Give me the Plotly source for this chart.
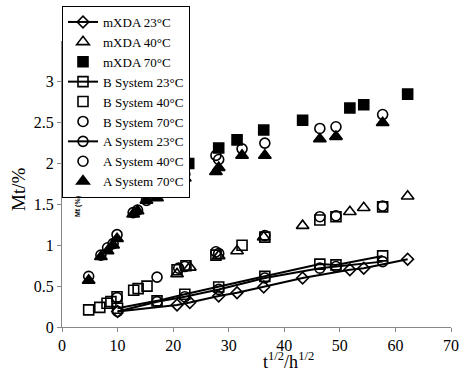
import plotly.graph_objects as go

# ---- data ----
mxda23_x = [10, 20.7, 23, 28.2, 31.5, 36.3, 43.3, 51.8, 54.3, 62.2]
mxda23_y = [0.19, 0.27, 0.30, 0.38, 0.42, 0.49, 0.60, 0.70, 0.72, 0.83]

mxda40_x = [20.7, 23, 28.2, 31.5, 36.3, 43.3, 51.8, 54.3, 62.2]
mxda40_y = [0.65, 0.73, 0.87, 0.93, 1.10, 1.24, 1.41, 1.46, 1.60]

mxda70_x = [20.7, 22.8, 28.2, 31.5, 36.3, 43.3, 51.8, 54.3, 62.2]
mxda70_y = [1.90, 2.00, 2.19, 2.29, 2.41, 2.53, 2.68, 2.72, 2.85]

b23_x = [10, 17.1, 22.1, 28.2, 36.5, 46.4, 49.3, 57.7]
b23_y = [0.23, 0.32, 0.40, 0.49, 0.62, 0.77, 0.76, 0.87]

b40_x = [4.8, 6.8, 8.1, 8.8, 9.9, 12.9, 13.7, 15.3, 20.7, 22.3, 27.7, 32.4, 36.5, 46.4, 49.3, 57.7]
b40_y = [0.21, 0.24, 0.29, 0.31, 0.37, 0.45, 0.47, 0.50, 0.70, 0.75, 0.88, 1.00, 1.10, 1.31, 1.35, 1.47]

b70_x = [4.8, 7, 8.2, 9.2, 9.9, 12.8, 13.6, 15.2, 17.1, 21, 22.1, 27.7, 28.2, 32.4, 36.5, 46.4, 49.3, 57.7]
b70_y = [0.62, 0.88, 0.97, 1.02, 1.13, 1.40, 1.43, 1.55, 1.67, 1.80, 1.87, 2.10, 2.05, 2.18, 2.25, 2.43, 2.45, 2.60]

a23_x = [10, 17.1, 22.1, 28.2, 36.5, 46.4, 49.3, 57.7]
a23_y = [0.19, 0.31, 0.37, 0.46, 0.60, 0.72, 0.74, 0.80]

a40_x = [9.9, 17.1, 21, 22.1, 27.7, 28.2, 36.5, 46.4, 49.3, 57.7]
a40_y = [0.36, 0.61, 0.72, 0.74, 0.92, 0.90, 1.12, 1.35, 1.36, 1.48]

a70_x = [4.8, 7, 8.2, 9.2, 9.9, 12.8, 13.6, 15.2, 17.1, 21, 22.1, 27.7, 28.2, 32.4, 36.5, 46.4, 49.3, 57.7]
a70_y = [0.57, 0.86, 0.93, 1.00, 1.08, 1.38, 1.42, 1.55, 1.58, 1.73, 1.82, 1.90, 1.95, 2.10, 2.10, 2.30, 2.33, 2.50]

x_ticks = [0, 10, 20, 30, 40, 50, 60, 70]
y_ticks = [0, 0.5, 1, 1.5, 2, 2.5, 3]
y_tick_labels = ["0", "0.5", "1", "1.5", "2", "2.5", "3"]

series = [
    ("mXDA 23°C", mxda23_x, mxda23_y, "lines+markers", "diamond-open", 9),
    ("mXDA 40°C", mxda40_x, mxda40_y, "markers", "triangle-up-open", 11),
    ("mXDA 70°C", mxda70_x, mxda70_y, "markers", "square", 10),
    ("B System 23°C", b23_x, b23_y, "lines+markers", "square-open", 10),
    ("B System 40°C", b40_x, b40_y, "markers", "square-open", 10),
    ("B System 70°C", b70_x, b70_y, "markers", "circle-open", 10),
    ("A System 23°C", a23_x, a23_y, "lines+markers", "circle-open", 10),
    ("A System 40°C", a40_x, a40_y, "markers", "circle-open", 10),
    ("A System 70°C", a70_x, a70_y, "markers", "triangle-up", 11),
]

fig = go.Figure()
for name, xs, ys, mode, sym, size in series:
    fig.add_trace(go.Scatter(
        x=xs, y=ys, name=name, mode=mode,
        line=dict(color="black", width=2),
        marker=dict(symbol=sym, size=size, color="black",
                    line=dict(color="black", width=1.6)),
    ))

font_serif = "Liberation Serif, Times New Roman, serif"
W, H = 459, 370
ML, MR, MT, MB = 62, 8, 41, 43
pw, ph = W - ML - MR, H - MT - MB


def px_x(px):
    return (px - ML) / pw


def px_y(py):
    return (H - MB - py) / ph


fig.update_layout(
    width=W, height=H,
    margin=dict(l=ML, r=MR, t=MT, b=MB, autoexpand=False),
    paper_bgcolor="white", plot_bgcolor="white",
    font=dict(family=font_serif, color="black", size=16),
    showlegend=True,
    legend=dict(
        x=px_x(62), xref="paper", xanchor="left",
        y=px_y(6), yref="paper", yanchor="top",
        bgcolor="white", bordercolor="black", borderwidth=1,
        font=dict(family=font_serif, size=13, color="black"),
        tracegroupgap=0, itemwidth=30, maxheight=360,
    ),
    xaxis=dict(
        range=[0, 70], tickvals=x_ticks, showgrid=False, zeroline=False,
        showline=True, linecolor="#888888", linewidth=1,
        ticks="outside", ticklen=4, tickcolor="#888888",
        tickfont=dict(family=font_serif, size=16, color="black"),
    ),
    yaxis=dict(
        range=[0, 3.5], tickvals=y_ticks, ticktext=y_tick_labels,
        showgrid=False, zeroline=False,
        showline=True, linecolor="#888888", linewidth=1,
        ticks="outside", ticklen=4, tickcolor="#888888",
        tickfont=dict(family=font_serif, size=16, color="black"),
    ),
    annotations=[
        dict(text="Mt/%", x=px_x(18), y=px_y(190), xref="paper", yref="paper",
             xanchor="center", yanchor="middle",
             showarrow=False, textangle=-90,
             font=dict(family=font_serif, size=19, color="black")),
        dict(text="t<sup>1/2</sup>/h<sup>1/2</sup>", x=px_x(288), y=px_y(360),
             xref="paper", yref="paper", xanchor="center", yanchor="middle",
             showarrow=False,
             font=dict(family=font_serif, size=18, color="black")),
        dict(text="<b>Mt (%)</b>", x=px_x(78), y=px_y(207), xref="paper", yref="paper",
             xanchor="center", yanchor="middle",
             showarrow=False, textangle=-90,
             font=dict(family="Liberation Sans, Arial", size=7, color="black")),
    ],
)

fig.write_html("out.html")
